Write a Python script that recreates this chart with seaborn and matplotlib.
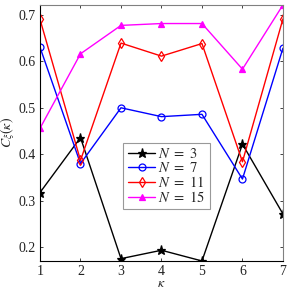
import matplotlib
matplotlib.use("Agg")
import matplotlib.pyplot as plt
import seaborn as sns
import pandas as pd

kappa = [1, 2, 3, 4, 5, 6, 7]
n3 = [0.318, 0.436, 0.176, 0.194, 0.171, 0.422, 0.272]
n7 = [0.630, 0.380, 0.500, 0.481, 0.486, 0.347, 0.628]
n11 = [0.690, 0.387, 0.639, 0.611, 0.638, 0.384, 0.691]
n15 = [0.456, 0.616, 0.677, 0.681, 0.681, 0.583, 0.721]
labels = [r"$N\ =\ 3$", r"$N\ =\ 7$", r"$N\ =\ 11$", r"$N\ =\ 15$"]
colors = ["black", "blue", "red", "magenta"]
markers = ["*", "o", "d", "^"]
fills = [True, False, False, True]

sns.set_theme(style="white")
plt.rcParams["font.family"] = ["Liberation Serif", "DejaVu Serif"]
plt.rcParams["mathtext.fontset"] = "stix"

fig = plt.figure(figsize=(2.92, 2.89), dpi=100)
ax = fig.add_axes([0.137, 0.097, 0.832, 0.886])

series = [n3, n7, n11, n15]
for vals, lab, c, m, f in zip(series, labels, colors, markers, fills):
    df = pd.DataFrame({"k": kappa, "v": vals})
    ms = 6.5 if m == "*" else 5
    sns.lineplot(data=df, x="k", y="v", ax=ax, color=c, marker=m, markersize=ms,
                 markerfacecolor=(c if f else "none"), markeredgecolor=c,
                 markeredgewidth=0.9, linewidth=1.0, label=lab)

allv = n3 + n7 + n11 + n15
ax.set_xlim(1, 7)
ax.set_ylim(min(allv), max(allv))
ax.set_xticks(kappa)
ax.set_yticks([0.2, 0.3, 0.4, 0.5, 0.6, 0.7])
ax.set_yticklabels(["0.2", "0.3", "0.4", "0.5", "0.6", "0.7"])
ax.tick_params(direction="in", length=2.5, width=0.6, labelsize=10, top=True, right=True,
               bottom=True, left=True, pad=3, colors="#222222")
ax.set_xlabel(r"$\kappa$", fontsize=10, labelpad=-1)
ax.set_ylabel(r"$C_{\xi}(\kappa)$", fontsize=10)
ax.yaxis.set_label_coords(-0.093, 0.5)

for side in ["left", "bottom"]:
    ax.spines[side].set_color("black")
    ax.spines[side].set_linewidth(0.8)
for side in ["top", "right"]:
    ax.spines[side].set_color("#808080")
    ax.spines[side].set_linewidth(0.8)

leg = ax.legend(loc="upper left", bbox_to_anchor=(0.343, 0.462), fontsize=10.5,
                frameon=True, fancybox=False, edgecolor="#808080",
                handlelength=1.9, handletextpad=0.2, borderpad=0.3, labelspacing=0.0,
                borderaxespad=0)
leg.get_frame().set_linewidth(0.8)

fig.savefig("out.png", dpi=100)
